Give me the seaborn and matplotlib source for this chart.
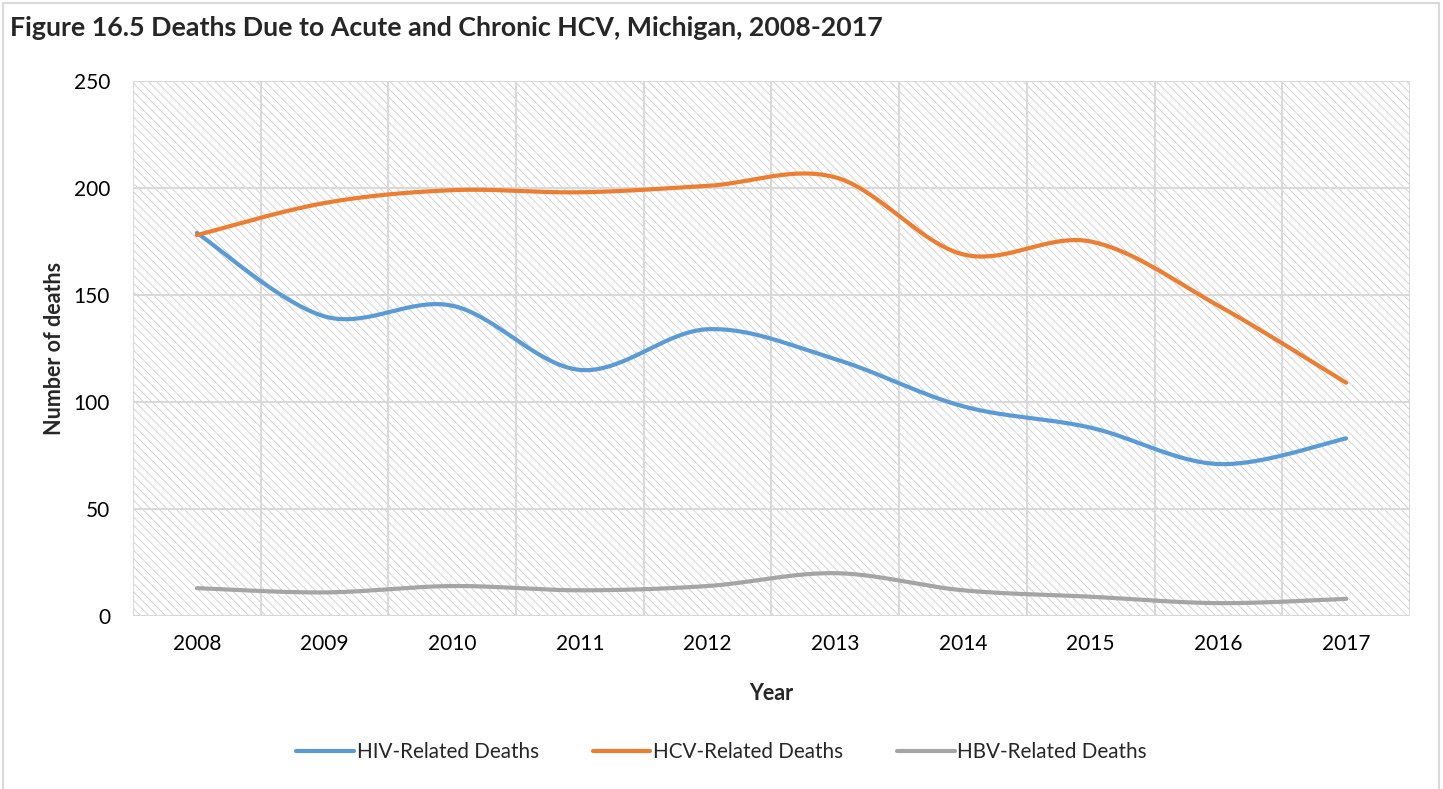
import numpy as np
import pandas as pd
import matplotlib
matplotlib.use("Agg")
import matplotlib.pyplot as plt
from matplotlib.patches import Rectangle
from matplotlib.lines import Line2D
import seaborn as sns

years = [2008, 2009, 2010, 2011, 2012, 2013, 2014, 2015, 2016, 2017]
hiv_deaths = [179, 140, 145, 115, 134, 120, 98, 88, 71, 83]
hcv_deaths = [178, 193, 199, 198, 201, 205, 169, 175, 145, 109]
hbv_deaths = [13, 11, 14, 12, 14, 20, 12, 9, 6, 8]
series_names = ["HIV-Related Deaths", "HCV-Related Deaths", "HBV-Related Deaths"]
series_colors = ["#5B9BD5", "#ED7D31", "#A5A5A5"]
y_ticks = [0, 50, 100, 150, 200, 250]

sns.set_theme(style="white")
plt.rcParams["font.family"] = ["Lato", "DejaVu Sans"]
plt.rcParams["hatch.linewidth"] = 0.6
plt.rcParams["hatch.color"] = "#cccccc"


def smooth_curve(x, y, steps=40):
    """Bezier smoothing through every point (Catmull-Rom style, tension 1/6)."""
    p = np.column_stack([x, y]).astype(float)
    ext = np.vstack([p[0], p, p[-1]])
    out = []
    t = np.linspace(0, 1, steps)[:, None]
    for i in range(len(p) - 1):
        p0, p1, p2, p3 = ext[i], ext[i + 1], ext[i + 2], ext[i + 3]
        c1 = p1 + (p2 - p0) / 6.0
        c2 = p2 - (p3 - p1) / 6.0
        seg = ((1 - t) ** 3) * p1 + 3 * ((1 - t) ** 2) * t * c1 + 3 * (1 - t) * t ** 2 * c2 + t ** 3 * p2
        out.append(seg if i == 0 else seg[1:])
    out = np.vstack(out)
    return out[:, 0], out[:, 1]


fig = plt.figure(figsize=(14.43, 7.89), dpi=100)
ax = fig.add_axes([0.0922, 0.2193, 0.9771 - 0.0922, 0.8973 - 0.2193])

# hatched plot-area background
ax.add_patch(Rectangle((0, 0), 1, 1, transform=ax.transAxes, facecolor="white",
                       edgecolor="#cccccc", hatch="\\\\\\\\", linewidth=0, zorder=0))

rows = []
for name, vals in zip(series_names, [hiv_deaths, hcv_deaths, hbv_deaths]):
    sx, sy = smooth_curve(years, vals)
    rows.append(pd.DataFrame({"year": sx, "deaths": sy, "series": name}))
df = pd.concat(rows, ignore_index=True)

sns.lineplot(data=df, x="year", y="deaths", hue="series", hue_order=series_names,
             palette=series_colors, sort=False, estimator=None, units="series",
             linewidth=3.0, ax=ax, legend=False, zorder=3)

ax.set_xlim(years[0] - 0.5, years[-1] + 0.5)
ax.set_ylim(0, 250)
ax.set_xticks(years)
ax.set_xticklabels([str(y) for y in years])
ax.set_xticks(np.arange(years[0] - 0.5, years[-1] + 1.0, 1.0), minor=True)
ax.set_yticks(y_ticks)
ax.grid(False)
ax.grid(True, which="minor", axis="x", color="#d9d9d9", linewidth=1.5, zorder=1)
ax.grid(True, which="major", axis="y", color="#d9d9d9", linewidth=1.5, zorder=1)
ax.set_axisbelow(True)
for s in ax.spines.values():
    s.set_visible(False)
ax.axhline(0, color="#d9d9d9", linewidth=1.5, zorder=2)
ax.tick_params(axis="both", which="both", length=0, labelsize=15, colors="black")
ax.tick_params(axis="x", pad=13)
ax.tick_params(axis="y", pad=16.5)

ax.set_xlabel("Year", fontsize=15.5, fontweight="bold", labelpad=21)
ax.set_ylabel("Number of deaths", fontsize=15.5, fontweight="bold", labelpad=6)

fig.text(0.007, 0.964, "Figure 16.5 Deaths Due to Acute and Chronic HCV, Michigan, 2008-2017",
         fontsize=19.3, fontweight="bold", ha="left", va="center")

handles = [Line2D([0], [0], color=c, linewidth=3.0) for c in series_colors]
fig.legend(handles, series_names, loc="center", bbox_to_anchor=(0.5, 0.047), ncol=3,
           frameon=False, fontsize=14.9, handlelength=2.8, handletextpad=0.12,
           columnspacing=2.6)

# outer chart border
fig.patches.append(Rectangle((0.002, -0.02), 0.995, 1.016, transform=fig.transFigure,
                             fill=False, edgecolor="#d9d9d9", linewidth=1.5))

fig.savefig("out.png", dpi=100)
